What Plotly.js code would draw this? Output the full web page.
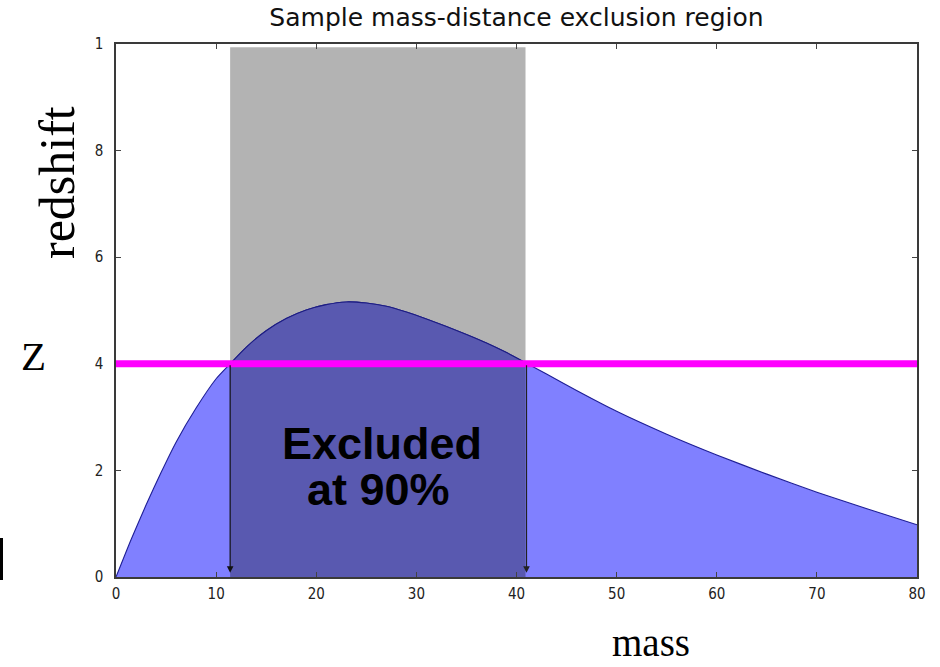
<!DOCTYPE html>
<html>
<head>
<meta charset="utf-8">
<script src="https://cdn.plot.ly/plotly-3.0.1.min.js"></script>
<style>
  html, body { margin: 0; padding: 0; background: #ffffff; }
  #chart { width: 940px; height: 667px; }
</style>
</head>
<body>
<div id="chart"></div>
<script>
// ---- data ----
const massValues = [0, 1.5, 3, 4.5, 6, 8, 10, 11.4, 13, 15, 17, 19, 21, 23, 25, 27, 29, 31, 33, 35, 37, 39, 40.9, 43, 46, 50, 55, 60, 65, 70, 75, 80];
const redshiftValues = [0, 0.070, 0.135, 0.196, 0.253, 0.317, 0.372, 0.400, 0.431, 0.462, 0.485, 0.501, 0.511, 0.516, 0.514, 0.508, 0.497, 0.484, 0.470, 0.455, 0.439, 0.421, 0.402, 0.381, 0.350, 0.311, 0.268, 0.229, 0.193, 0.159, 0.128, 0.098];
const excludedMass = [11.4, 40.9];      // exclusion interval (mass)
const excludedTop = 0.994;              // top of grey exclusion band
const zThreshold = 0.40;                // magenta redshift line
const xTickValues = [0, 10, 20, 30, 40, 50, 60, 70, 80];
const xTickLabels = ['0', '10', '20', '30', '40', '50', '60', '70', '80'];
const yTickValues = [0, 0.2, 0.4, 0.6, 0.8, 1.0];
const yTickLabels = ['0', '2', '4', '6', '8', '1'];
const chartTitle = 'Sample mass-distance exclusion region';
const excludedText = ['Excluded', 'at 90%'];

// ---- helpers ----
function interp(x) {
  for (let i = 0; i < massValues.length - 1; i++) {
    const x0 = massValues[i], x1 = massValues[i + 1];
    if (x >= x0 && x <= x1) {
      const t = (x - x0) / (x1 - x0);
      return redshiftValues[i] + t * (redshiftValues[i + 1] - redshiftValues[i]);
    }
  }
  return redshiftValues[redshiftValues.length - 1];
}
const darkX = [excludedMass[0]];
massValues.forEach(m => { if (m > excludedMass[0] && m < excludedMass[1]) darkX.push(m); });
darkX.push(excludedMass[1]);
const darkY = darkX.map(interp);

// pixel -> paper helpers (plot area 116..917 x, 44..577 y)
const L = 116, R = 917, T = 44, B = 577;
const px = p => (p - L) / (R - L);
const py = p => (B - p) / (B - T);

const serif = 'Liberation Serif, Times New Roman, serif';
const sans = 'DejaVu Sans, sans-serif';
const tickFontFamily = 'DejaVu Sans Condensed, DejaVu Sans, sans-serif';

const traces = [
  {
    x: massValues, y: redshiftValues, type: 'scatter', mode: 'lines',
    fill: 'tozeroy', fillcolor: 'rgb(128,128,255)',
    line: { color: 'rgb(30,30,150)', width: 1.1, shape: 'spline', smoothing: 0.6 },
    hoverinfo: 'skip', showlegend: false
  },
  {
    x: darkX, y: darkY, type: 'scatter', mode: 'lines',
    fill: 'tozeroy', fillcolor: 'rgb(89,89,176)',
    line: { color: 'rgb(30,30,130)', width: 1.1, shape: 'spline', smoothing: 0.6 },
    hoverinfo: 'skip', showlegend: false
  }
];

const axisCommon = {
  showline: true, linecolor: '#3a3a3a', linewidth: 1.6, mirror: 'ticks',
  ticks: 'inside', ticklen: 5, tickwidth: 1, tickcolor: '#444',
  showgrid: false, zeroline: false, fixedrange: true,
  tickfont: { family: tickFontFamily, size: 15, color: '#222' }
};

const layout = {
  width: 940, height: 667,
  margin: { l: L, r: 940 - R, t: T, b: 667 - B, pad: 0 },
  paper_bgcolor: '#ffffff', plot_bgcolor: '#ffffff',
  showlegend: false,
  title: {
    text: chartTitle, x: 0.5, xref: 'paper', xanchor: 'center',
    y: 1 - 17 / 667, yref: 'container', yanchor: 'middle',
    font: { family: sans, size: 25, color: '#111' }
  },
  xaxis: Object.assign({}, axisCommon, {
    range: [0, 80], tickmode: 'array', tickvals: xTickValues, ticktext: xTickLabels,
    ticklabelstandoff: 2
  }),
  yaxis: Object.assign({}, axisCommon, {
    range: [0, 1], tickmode: 'array', tickvals: yTickValues, ticktext: yTickLabels,
    ticklabelstandoff: 8
  }),
  shapes: [
    { type: 'rect', layer: 'below', xref: 'x', yref: 'y',
      x0: excludedMass[0], x1: excludedMass[1], y0: 0, y1: excludedTop,
      fillcolor: 'rgb(179,179,179)', line: { width: 0 } },
    { type: 'line', layer: 'above', xref: 'paper', yref: 'y',
      x0: 0, x1: 1, y0: zThreshold, y1: zThreshold,
      line: { color: '#ff00ff', width: 7 } },
    { type: 'rect', layer: 'above', xref: 'paper', yref: 'paper',
      x0: px(0), x1: px(3), y0: py(580), y1: py(538),
      fillcolor: '#000', line: { width: 0 } }
  ],
  annotations: [
    // arrows marking the exclusion limits
    { xref: 'x', yref: 'y', axref: 'x', ayref: 'y',
      x: excludedMass[0], y: 0.008, ax: excludedMass[0], ay: zThreshold,
      text: '', showarrow: true, arrowhead: 2, arrowsize: 1.1, arrowwidth: 1.2,
      arrowcolor: '#111', standoff: 0, startstandoff: 0 },
    { xref: 'x', yref: 'y', axref: 'x', ayref: 'y',
      x: excludedMass[1] + 0.1, y: 0.008, ax: excludedMass[1] + 0.1, ay: zThreshold,
      text: '', showarrow: true, arrowhead: 2, arrowsize: 1.1, arrowwidth: 1.2,
      arrowcolor: '#222', standoff: 0, startstandoff: 0 },
    // "Excluded at 90%"
    { xref: 'paper', yref: 'paper', x: px(382), y: py(443), xanchor: 'center', yanchor: 'middle',
      text: '<b>' + excludedText[0] + '</b>', showarrow: false,
      font: { family: 'Liberation Sans, Arial, sans-serif', size: 45, color: '#000' } },
    { xref: 'paper', yref: 'paper', x: px(378), y: py(489), xanchor: 'center', yanchor: 'middle',
      text: '<b>' + excludedText[1] + '</b>', showarrow: false,
      font: { family: 'Liberation Sans, Arial, sans-serif', size: 45, color: '#000' } },
    // axis labels (placed as in the reference)
    { xref: 'paper', yref: 'paper', x: px(57), y: py(183), xanchor: 'center', yanchor: 'middle',
      text: 'redshift', textangle: -90, showarrow: false,
      font: { family: serif, size: 50, color: '#000' } },
    { xref: 'paper', yref: 'paper', x: px(33), y: py(356), xanchor: 'center', yanchor: 'middle',
      text: 'Z', showarrow: false,
      font: { family: serif, size: 41, color: '#000' } },
    { xref: 'paper', yref: 'paper', x: px(651), y: py(666), xanchor: 'center', yanchor: 'bottom',
      text: 'mass', showarrow: false,
      font: { family: serif, size: 39, color: '#000' } }
  ]
};

Plotly.newPlot('chart', traces, layout, { staticPlot: true, displayModeBar: false });
</script>
</body>
</html>
